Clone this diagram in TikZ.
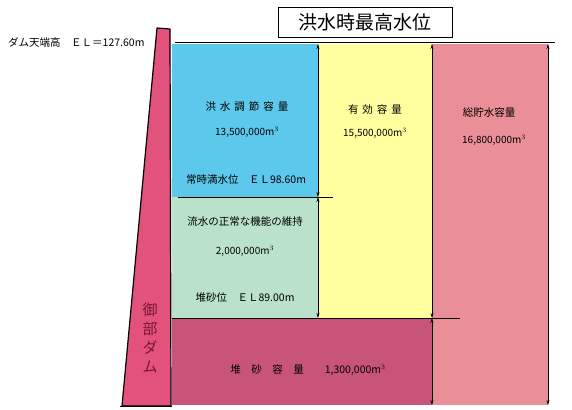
\documentclass[tikz,border=0pt]{standalone}
\usepackage{fontspec}
\setmainfont{Noto Sans CJK JP}
\usetikzlibrary{arrows.meta}

\definecolor{floodblue}{RGB}{92,200,235}
\definecolor{effyellow}{RGB}{255,255,160}
\definecolor{totalpink}{RGB}{234,142,152}
\definecolor{sedred}{RGB}{200,84,122}
\definecolor{normgreen}{RGB}{186,226,202}
\definecolor{dampink}{RGB}{226,82,124}
\definecolor{damtext}{RGB}{120,20,50}

\begin{document}
\begin{tikzpicture}[x=1pt,y=-1pt,
    lbl/.style={font=\fontsize{10.5}{12}\selectfont, inner sep=1pt},
    num/.style={font=\fontsize{10}{12}\selectfont, inner sep=1pt},
    dimline/.style={{Stealth[length=5pt,width=3pt]}-{Stealth[length=5pt,width=3pt]}, line width=0.6pt}]
    \useasboundingbox (0,0) rectangle (572,409);

    % levels
    \coordinate (fwlL) at (175,43);
    \coordinate (fwlR) at (555,43);
    \coordinate (nwlL) at (178,197);
    \coordinate (nwlR) at (333,197);
    \coordinate (sedL) at (172,318);
    \coordinate (sedR) at (460,318);

    % storage zones
    \fill[floodblue] (172,44) rectangle (318,197);
    \fill[normgreen] (172,197) rectangle (318,318);
    \fill[effyellow] (318,44) rectangle (432,318);
    \fill[totalpink] (432,44) rectangle (548,405);
    \fill[sedred] (172,318) rectangle (432,405);

    % dam body
    \draw[fill=dampink, line width=1.2pt, line join=round] (122,406) -- (157,28) -- (170,29) -- (171,406) -- cycle;
    \draw[line width=1pt] (120,406) -- (172,406);

    % water levels
    \draw[line width=1pt] (fwlL) -- (fwlR);
    \draw[line width=0.8pt] (nwlL) -- (nwlR);
    \draw[line width=1pt] (sedL) -- (sedR);

    % dimension arrows
    \coordinate (a1) at (318,44);
    \coordinate (a2) at (318,197);
    \coordinate (a3) at (318,318);
    \coordinate (b1) at (432,44);
    \coordinate (b2) at (432,318);
    \coordinate (b3) at (432,405);
    \coordinate (c1) at (548,44);
    \coordinate (c2) at (548,405);
    \draw[dimline] (a1) -- (a2);
    \draw[dimline] (a2) -- (a3);
    \draw[dimline] (b1) -- (b2);
    \draw[dimline] (b2) -- (b3);
    \draw[dimline] (c1) -- (c2);

    % title
    \node[draw, line width=0.8pt, minimum width=174pt, minimum height=30pt, inner sep=0pt,
          font=\fontsize{19}{21}\selectfont] (title) at (365,22) {洪水時最高水位};

    % labels
    \node[font=\fontsize{10.5}{12}\selectfont, inner sep=0pt, anchor=west] (crest) at (8,42) {ダム天端高　ＥＬ＝127.60m};
    \node[lbl] (flood) at (247,107) {洪\hspace{4pt}水\hspace{4pt}調\hspace{4pt}節\hspace{4pt}容\hspace{4pt}量};
    \node[num] (floodv) at (247,132) {13,500,000m$^3$};
    \node[lbl] (nwl) at (246,180) {常時満水位　ＥＬ98.60m};
    \node[lbl] (eff) at (375,110) {有\hspace{4pt}効\hspace{4pt}容\hspace{4pt}量};
    \node[num] (effv) at (375,133) {15,500,000m$^3$};
    \node[lbl] (total) at (489,113) {総貯水容量};
    \node[num] (totalv) at (494,140) {16,800,000m$^3$};
    \node[lbl] (normal) at (245,222) {流水の正常な機能の維持};
    \node[num] (normalv) at (245,251) {2,000,000m$^3$};
    \node[lbl] (sedlv) at (245,298) {堆砂位　ＥＬ89.00m};
    \node[lbl] (sed) at (308,370) {堆　砂　容　量　　1,300,000m$^3$};
    \node[font=\fontsize{15}{19}\selectfont, text=damtext, align=center, inner sep=0pt] (damname) at (150,338) {御\\部\\ダ\\ム};

\end{tikzpicture}
\end{document}
